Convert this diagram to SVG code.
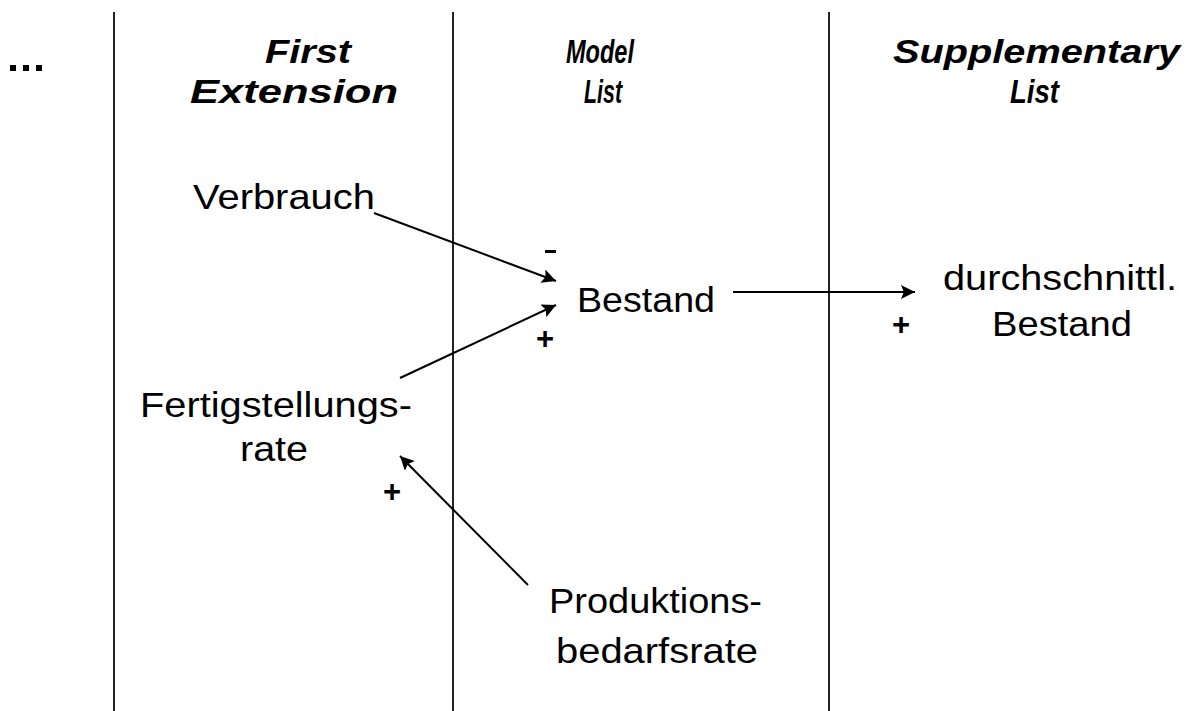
<svg xmlns="http://www.w3.org/2000/svg" width="1197" height="711" viewBox="0 0 1197 711">
  <style>
    .head { font-family: "Liberation Sans", Arial, sans-serif; font-size: 34px; font-weight: bold; font-style: italic; fill: #000; }
    .lbl { font-family: "Liberation Sans", Arial, sans-serif; font-size: 35px; fill: #000; }
    .sign { font-family: "Liberation Sans", Arial, sans-serif; font-size: 31px; font-weight: bold; fill: #000; }
    .divider { stroke: #222; stroke-width: 2; }
    .link { stroke: #000; stroke-width: 2; fill: none; marker-end: url(#arrow); }
  </style>
  <defs>
    <marker id="arrow" viewBox="0 0 10 10" refX="10" refY="5" markerWidth="8" markerHeight="7" markerUnits="strokeWidth" orient="auto">
      <path d="M0,0 L10,5 L0,10 L2,5 z" fill="#000"/>
    </marker>
  </defs>
  <rect width="1197" height="711" fill="#fff"/>

  <!-- column dividers -->
  <g id="dividers">
    <line class="divider" x1="114" y1="12" x2="114" y2="711"/>
    <line class="divider" x1="453" y1="12" x2="453" y2="711"/>
    <line class="divider" x1="829" y1="12" x2="829" y2="711"/>
  </g>

  <!-- column headings -->
  <g id="headings">
    <g id="ellipsis" fill="#000">
      <rect x="10" y="65" width="6" height="6"/>
      <rect x="23" y="65" width="6" height="6"/>
      <rect x="36" y="65" width="6" height="6"/>
    </g>
    <text class="head" x="265" y="63" textLength="86" lengthAdjust="spacingAndGlyphs">First</text>
    <text class="head" x="190" y="103" textLength="208" lengthAdjust="spacingAndGlyphs">Extension</text>
    <text class="head" x="566" y="63" textLength="68" lengthAdjust="spacingAndGlyphs">Model</text>
    <text class="head" x="584" y="103" textLength="38" lengthAdjust="spacingAndGlyphs">List</text>
    <text class="head" x="893" y="63" textLength="287" lengthAdjust="spacingAndGlyphs">Supplementary</text>
    <text class="head" x="1010" y="103" textLength="49" lengthAdjust="spacingAndGlyphs">List</text>
  </g>

  <!-- variables -->
  <g id="node-verbrauch">
    <text class="lbl" x="193" y="209" textLength="182" lengthAdjust="spacingAndGlyphs">Verbrauch</text>
  </g>
  <g id="node-bestand">
    <text class="lbl" x="577" y="312" textLength="138" lengthAdjust="spacingAndGlyphs">Bestand</text>
  </g>
  <g id="node-durchschnittl-bestand">
    <text class="lbl" x="943" y="290" textLength="234" lengthAdjust="spacingAndGlyphs">durchschnittl.</text>
    <text class="lbl" x="992" y="336" textLength="140" lengthAdjust="spacingAndGlyphs">Bestand</text>
  </g>
  <g id="node-fertigstellungsrate">
    <text class="lbl" x="140" y="417" textLength="272" lengthAdjust="spacingAndGlyphs">Fertigstellungs-</text>
    <text class="lbl" x="240" y="461" textLength="68" lengthAdjust="spacingAndGlyphs">rate</text>
  </g>
  <g id="node-produktionsbedarfsrate">
    <text class="lbl" x="549" y="613" textLength="213" lengthAdjust="spacingAndGlyphs">Produktions-</text>
    <text class="lbl" x="556" y="663" textLength="202" lengthAdjust="spacingAndGlyphs">bedarfsrate</text>
  </g>

  <!-- causal links -->
  <g id="connectors">
    <line class="link" x1="374" y1="213" x2="556" y2="281"/>
    <line class="link" x1="400" y1="378" x2="556" y2="305"/>
    <line class="link" x1="528" y1="585" x2="400" y2="456"/>
    <line class="link" x1="733" y1="292" x2="915" y2="292"/>
  </g>

  <!-- link polarities -->
  <g id="polarities">
    <rect x="545" y="250" width="11" height="3" fill="#000"/>
    <text class="sign" x="545" y="349" text-anchor="middle">+</text>
    <text class="sign" x="392" y="502" text-anchor="middle">+</text>
    <text class="sign" x="901" y="335" text-anchor="middle">+</text>
  </g>
</svg>
